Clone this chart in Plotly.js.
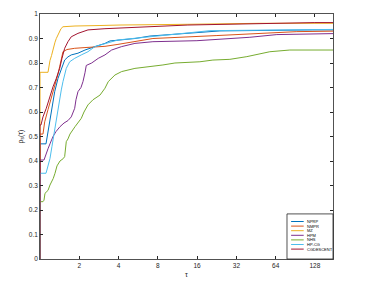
<!DOCTYPE html>
<html><head><meta charset="utf-8">
<script src="https://cdn.plot.ly/plotly-3.0.1.min.js"></script>
<style>html,body{margin:0;padding:0;background:#fff;}#chart{width:374px;height:289px;}</style>
</head><body><div id="chart"></div>
<script>
// x values are log2(tau); tick labels show tau
const seriesNames = ["NPRP", "NMPR", "MZ", "HPM", "NHS", "HP-CG", "CGDESCENT"];
const seriesColors = ["#0072BD", "#D95319", "#EDB120", "#7E2F8E", "#77AC30", "#4DBEEE", "#A2142F"];

const nprpX = [0,0,0.153,0.191,0.247,0.305,0.374,0.458,0.542,0.628,0.712,0.796,0.967,1.145,1.399,1.654,1.781,2.417,2.799,3.74,4.58,6.947,7.46];
const nprpY = [0,0.47,0.47,0.51,0.56,0.63,0.683,0.737,0.778,0.812,0.825,0.833,0.84,0.853,0.867,0.88,0.89,0.9,0.91,0.921,0.931,0.935,0.935];

const nmprX = [0,0,0.076,0.12,0.204,0.288,0.356,0.415,0.458,0.501,0.542,0.585,0.687,0.883,1.145,1.399,1.654,1.985,2.417,2.875,4.504,5.852,6.539,7.46];
const nmprY = [0,0.51,0.51,0.56,0.61,0.656,0.69,0.724,0.755,0.785,0.815,0.846,0.855,0.86,0.863,0.865,0.868,0.876,0.887,0.9,0.912,0.921,0.928,0.93];

const mzX = [0,0,0.204,0.229,0.254,0.293,0.331,0.382,0.415,0.458,0.501,0.534,0.585,0.891,1.527,2.036,3.766,5.598,7.46];
const mzY = [0,0.762,0.762,0.79,0.81,0.83,0.86,0.885,0.9,0.915,0.928,0.94,0.948,0.951,0.953,0.955,0.958,0.962,0.962];

const hpmX = [0,0,0.102,0.153,0.204,0.254,0.331,0.407,0.509,0.611,0.712,0.796,0.883,0.916,0.967,1.043,1.094,1.145,1.178,1.315,1.483,1.654,1.824,2.079,2.417,2.875,3.995,5.344,6.031,7.46];
const hpmY = [0,0.404,0.404,0.43,0.45,0.47,0.5,0.52,0.54,0.555,0.565,0.58,0.615,0.65,0.683,0.7,0.724,0.76,0.79,0.8,0.819,0.833,0.853,0.867,0.88,0.887,0.891,0.905,0.916,0.92];

const nhsX = [0,0,0.076,0.102,0.127,0.204,0.254,0.338,0.382,0.433,0.509,0.593,0.628,0.669,0.712,0.763,0.891,0.967,1.051,1.12,1.221,1.349,1.527,1.654,1.738,1.908,2.079,2.417,2.799,3.13,3.435,4.071,4.402,4.835,5.267,5.471,5.852,6.361,7.46];
const nhsY = [0,0.234,0.234,0.24,0.268,0.28,0.302,0.329,0.35,0.38,0.4,0.41,0.418,0.479,0.49,0.51,0.54,0.555,0.574,0.6,0.629,0.65,0.669,0.697,0.724,0.751,0.765,0.778,0.785,0.792,0.8,0.805,0.812,0.815,0.826,0.833,0.846,0.853,0.853];

const hpcgX = [0,0,0.153,0.204,0.254,0.305,0.344,0.382,0.42,0.458,0.501,0.542,0.585,0.628,0.669,0.756,0.883,1.051,1.221,1.399,1.654,1.985,2.799,3.69,4.326,7.46];
const hpcgY = [0,0.35,0.35,0.38,0.41,0.46,0.5,0.54,0.58,0.62,0.656,0.69,0.724,0.75,0.778,0.805,0.819,0.833,0.846,0.867,0.88,0.894,0.907,0.921,0.932,0.937];

const cgdX = [0,0,0.025,0.076,0.16,0.247,0.331,0.415,0.501,0.56,0.628,0.712,0.796,0.967,1.221,1.654,2.417,3.766,6.998,7.46];
const cgdY = [0,0.547,0.547,0.58,0.615,0.662,0.703,0.737,0.778,0.819,0.86,0.887,0.907,0.921,0.935,0.94,0.946,0.955,0.965,0.965];

const xTickVals = [1,2,3,4,5,6,7];
const xTickText = ["2","4","8","16","32","64","128"];

const allX = [nprpX, nmprX, mzX, hpmX, nhsX, hpcgX, cgdX];
const allY = [nprpY, nmprY, mzY, hpmY, nhsY, hpcgY, cgdY];

const traces = seriesNames.map((n, i) => ({
  x: allX[i], y: allY[i], name: n, type: 'scatter', mode: 'lines',
  line: {color: seriesColors[i], width: 1, shape: 'linear'}
}));

// manual legend (MATLAB-style compact box)
const shapes = [{type:'rect', xref:'paper', yref:'paper', x0:0.843, x1:1.0, y0:0, y1:0.184,
  line:{color:'#262626', width:0.8}, fillcolor:'#ffffff', layer:'above'}];
const annotations = [];
seriesNames.forEach((n, i) => {
  const yp = (259 - (221.5 + 4.6*i)) / 245;
  shapes.push({type:'line', xref:'paper', yref:'paper', x0:0.857, x1:0.9, y0:yp, y1:yp,
    line:{color:seriesColors[i], width:1}, layer:'above'});
  annotations.push({xref:'paper', yref:'paper', x:0.906, y:yp, text:n, showarrow:false,
    xanchor:'left', yanchor:'middle', font:{size:4, color:'#000', family:'Liberation Sans, Arial'}});
});

const layout = {
  width: 374, height: 289,
  margin: {l: 40, r: 41, t: 14, b: 30},
  paper_bgcolor: '#fff', plot_bgcolor: '#fff',
  showlegend: false,
  font: {family: 'Liberation Sans, Arial, sans-serif', size: 6.5, color: '#262626'},
  xaxis: {range: [0, 7.46], tickvals: xTickVals, ticktext: xTickText,
    ticks: 'inside', ticklen: 3, tickcolor: '#262626', mirror: 'ticks', showline: true,
    linecolor: '#262626', linewidth: 0.8, showgrid: false, zeroline: false,
    tickfont: {size: 6.5, color: '#262626'},
    title: {text: 'τ', font: {size: 7, color: '#262626'}, standoff: 4}},
  yaxis: {range: [0, 1], dtick: 0.1, tick0: 0,
    ticks: 'inside', ticklen: 3, tickcolor: '#262626', mirror: 'ticks', showline: true,
    linecolor: '#262626', linewidth: 0.8, showgrid: false, zeroline: false,
    tickfont: {size: 6.5, color: '#262626'},
    title: {text: 'ρ<sub>s</sub>(τ)', font: {size: 7, color: '#262626'}, standoff: 4}},
  shapes: shapes,
  annotations: annotations
};

Plotly.newPlot('chart', traces, layout, {displayModeBar: false, staticPlot: true});
</script></body></html>
